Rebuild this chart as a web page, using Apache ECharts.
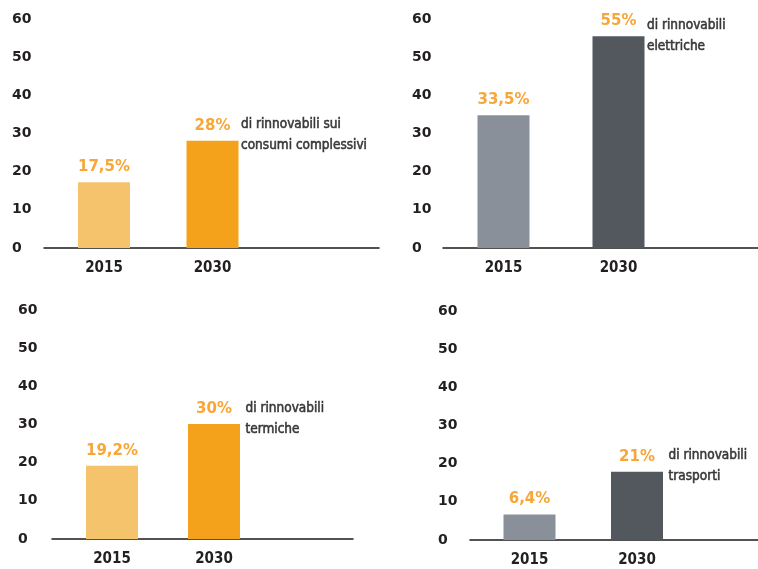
<!DOCTYPE html>
<html><head><meta charset="utf-8">
<script src="https://cdn.jsdelivr.net/npm/echarts@6/dist/echarts.min.js"></script>
<style>html,body{margin:0;padding:0;background:#fff}#c{width:758px;height:569px}</style>
</head><body><div id="c"></div>
<script>
const categories = ['2015', '2030'];
const yTicks = [0, 10, 20, 30, 40, 50, 60];
// bar heights as drawn in the picture
const valuesConsumi   = [17.2, 28.1];
const valuesElettrici = [34.8, 55.5];
const valuesTermici   = [19.2, 30.1];
const valuesTrasporti = [6.7, 17.9];
// printed labels
const labelsConsumi   = ['17,5%', '28%'];
const labelsElettrici = ['33,5%', '55%'];
const labelsTermici   = ['19,2%', '30%'];
const labelsTrasporti = ['6,4%', '21%'];
const notes = ['di rinnovabili sui\nconsumi complessivi', 'di rinnovabili\nelettriche', 'di rinnovabili\ntermiche', 'di rinnovabili\ntrasporti'];

const orangeColors = ['#F5C36C', '#F4A21B'];
const greyColors = ['#8A9099', '#53575E'];

const narrow = '"Liberation Sans Narrow", "DejaVu Sans Condensed", "Roboto Condensed", "Noto Sans", sans-serif';

const panels = [
  {vals: valuesConsumi, labs: labelsConsumi, note: notes[0], colors: orangeColors,
   line: {left: 44, right: 379, top: 19, bottom: 321}, bars: {left: 49.75, width: 217}, lm: 32, noteDy: -5, noteDx: 3},
  {vals: valuesElettrici, labs: labelsElettrici, note: notes[1], colors: greyColors,
   line: {left: 443, right: 0, top: 19, bottom: 321}, bars: {left: 446, width: 230}, lm: 31, noteDy: 0, noteDx: 3},
  {vals: valuesTermici, labs: labelsTermici, note: notes[2], colors: orangeColors,
   line: {left: 52, right: 405, top: 310, bottom: 30}, bars: {left: 61, width: 204}, lm: 34, noteDy: -5, noteDx: 6},
  {vals: valuesTrasporti, labs: labelsTrasporti, note: notes[3], colors: greyColors,
   line: {left: 470, right: 0, top: 311, bottom: 29}, bars: {left: 475.75, width: 215}, lm: 32, noteDy: -5, noteDx: 6}
];

const grid = [], xAxis = [], yAxis = [], series = [];
const barW = 52;
panels.forEach((p, i) => {
  grid.push({left: p.line.left, right: p.line.right, top: p.line.top, bottom: p.line.bottom});
  const gl = grid.length - 1;
  xAxis.push({gridIndex: gl, type: 'value', min: 0, max: 1, show: true,
    axisLine: {show: true, onZero: false, lineStyle: {color: '#1a1a1a', width: 1.5}},
    axisTick: {show: false}, axisLabel: {show: false}, splitLine: {show: false}});
  yAxis.push({gridIndex: gl, type: 'value', min: yTicks[0], max: yTicks[yTicks.length - 1], interval: 10,
    axisLine: {show: false}, axisTick: {show: false}, splitLine: {show: false},
    axisLabel: {align: 'left', margin: p.lm, color: '#231F20', fontFamily: 'DejaVu Sans', fontWeight: 'bold', fontSize: 14}});
  grid.push({left: p.bars.left, width: p.bars.width, top: p.line.top, bottom: p.line.bottom});
  const gb = grid.length - 1;
  xAxis.push({gridIndex: gb, type: 'category', data: categories,
    axisLine: {show: false}, axisTick: {show: false}, splitLine: {show: false},
    axisLabel: {margin: 13, color: '#231F20', fontFamily: narrow, fontWeight: 'bold', fontSize: 15}});
  yAxis.push({gridIndex: gb, type: 'value', min: 0, max: 60, interval: 10, show: false});
  series.push({type: 'bar', xAxisIndex: gb, yAxisIndex: gb, barWidth: barW,
    data: p.vals.map((v, k) => ({value: v, itemStyle: {color: p.colors[k]}})),
    label: {show: true, position: 'top', distance: 6, formatter: (d) => p.labs[d.dataIndex],
      color: '#F7A637', fontFamily: 'DejaVu Sans', fontWeight: 'bold', fontSize: 15, lineHeight: 18}});
  series.push({type: 'scatter', xAxisIndex: gb, yAxisIndex: gb, symbolSize: 1, silent: true,
    itemStyle: {color: 'rgba(0,0,0,0)'},
    data: [[categories[1], p.vals[1]]],
    label: {show: true, position: [barW / 2 + p.noteDx, p.noteDy], align: 'left', verticalAlign: 'middle',
      formatter: p.note, color: '#1a1a1a', textBorderColor: '#1a1a1a', textBorderWidth: 0.6,
      fontFamily: narrow, fontWeight: 'normal', fontSize: 13.5, lineHeight: 21}});
});

const chart = echarts.init(document.getElementById('c'), null, {renderer: 'canvas'});
chart.setOption({animation: false, grid, xAxis, yAxis, series});
</script></body></html>
